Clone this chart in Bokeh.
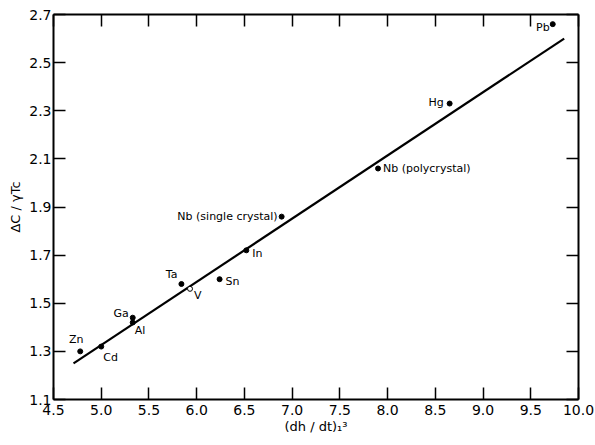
from bokeh.plotting import figure
from bokeh.models import Range1d, LinearAxis, FixedTicker
from bokeh.core.properties import value
from bokeh.embed import file_html
from bokeh.resources import INLINE

# ---- data ----
elements = ["Zn", "Cd", "Ga", "Al", "Ta", "V", "Sn", "In",
            "Nb (single crystal)", "Nb (polycrystal)", "Hg", "Pb"]
dhdt3 = [4.78, 5.00, 5.33, 5.33, 5.84, 5.93, 6.24, 6.52, 6.89, 7.90, 8.65, 9.73]
ratio = [1.30, 1.32, 1.44, 1.42, 1.58, 1.56, 1.60, 1.72, 1.86, 2.06, 2.33, 2.66]
fit_x = [4.71, 9.85]
fit_y = [1.25, 2.60]
x_ticks = [4.5, 5.0, 5.5, 6.0, 6.5, 7.0, 7.5, 8.0, 8.5, 9.0, 9.5, 10.0]
y_ticks = [1.1, 1.3, 1.5, 1.7, 1.9, 2.1, 2.3, 2.5, 2.7]
x_title = "(dh / dt)₁³"
y_title = "ΔC / γTc"

# ---- label placement (style) ----
label_style = {
    "Zn": ("center", "bottom", -4, -5),
    "Cd": ("left", "top", 2, 4),
    "Ga": ("right", "middle", -4, -4),
    "Al": ("left", "top", 2, 1),
    "Ta": ("right", "bottom", -4, -3),
    "V": ("left", "top", 4, 0),
    "Sn": ("left", "middle", 6, 2),
    "In": ("left", "middle", 6, 3),
    "Nb (single crystal)": ("right", "middle", -4, 0),
    "Nb (polycrystal)": ("left", "middle", 5, 0),
    "Hg": ("right", "middle", -6, -1),
    "Pb": ("right", "middle", -3, 3),
}

FONT = "DejaVu Sans"

p = figure(width=595, height=445, output_backend="svg", toolbar_location=None,
           x_range=Range1d(x_ticks[0], x_ticks[-1]),
           y_range=Range1d(y_ticks[0], y_ticks[-1]),
           min_border_left=53, min_border_right=17,
           min_border_top=14, min_border_bottom=46,
           x_axis_location=None, y_axis_location=None)
p.grid.visible = False
p.outline_line_color = None
p.background_fill_color = "white"
p.border_fill_color = "white"


def style_axis(ax, ticks, labels=True):
    ax.ticker = FixedTicker(ticks=ticks)
    ax.axis_line_width = 2
    ax.axis_line_color = "black"
    ax.major_tick_in = 12
    ax.major_tick_out = 0
    ax.major_tick_line_width = 1.5
    ax.major_tick_line_color = "black"
    ax.minor_tick_line_color = None
    ax.major_label_text_font = FONT
    ax.major_label_text_font_size = "14px"
    ax.major_label_text_color = "black"
    ax.axis_label_text_font = FONT
    ax.axis_label_text_font_size = "13px"
    ax.axis_label_text_font_style = "normal"
    ax.axis_label_text_color = "black"
    if labels:
        ax.major_label_overrides = {t: f"{t:.1f}" for t in ticks}
    else:
        ax.major_label_overrides = {t: "" for t in ticks}
        ax.major_label_standoff = 0


xb = LinearAxis(axis_label=x_title)
style_axis(xb, x_ticks)
xb.major_label_standoff = 5
xb.axis_label_standoff = 1
p.add_layout(xb, "below")

yl = LinearAxis(axis_label=y_title)
style_axis(yl, y_ticks)
yl.major_label_standoff = 2
yl.axis_label_standoff = 3
p.add_layout(yl, "left")

xt = LinearAxis()
style_axis(xt, x_ticks, labels=False)
p.add_layout(xt, "above")

yr = LinearAxis()
style_axis(yr, y_ticks, labels=False)
p.add_layout(yr, "right")

# fitted line
p.line(fit_x, fit_y, line_color="black", line_width=2.2)

# points
fills = ["white" if e == "V" else "black" for e in elements]
p.scatter(dhdt3, ratio, size=5, marker="circle", fill_color=fills,
          line_color="black", line_width=1)

# point labels
for e, xv, yv in zip(elements, dhdt3, ratio):
    al, bl, dx, dy = label_style[e]
    p.text([xv], [yv], text=[e], x_offset=dx, y_offset=dy,
           text_align=al, text_baseline=bl,
           text_font=value(FONT), text_font_size="11px", text_color="black")

open("out.html", "w").write(file_html(p, INLINE))
